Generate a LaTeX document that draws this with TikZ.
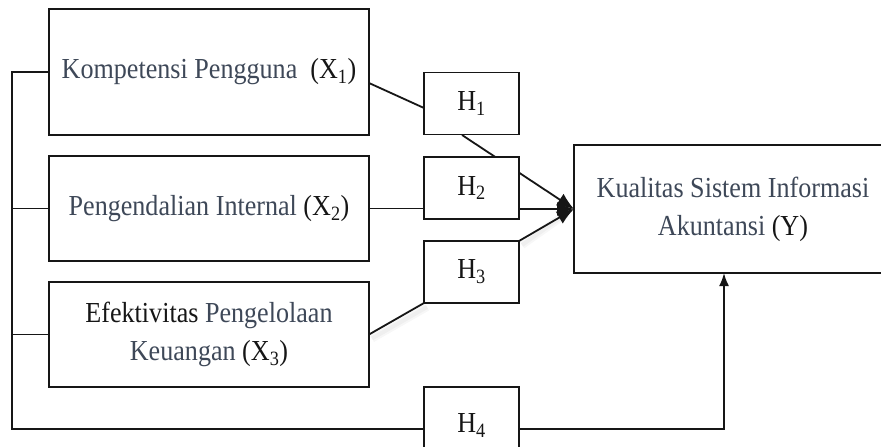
\documentclass[tikz,border=0pt]{standalone}
\usepackage{fontspec}
\setmainfont[FakeStretch=0.9]{Liberation Serif}
\usetikzlibrary{arrows.meta,calc}
\definecolor{slate}{HTML}{3E4858}
\definecolor{ink}{HTML}{161616}
\begin{document}
\begin{tikzpicture}[x=1pt,y=-1pt,
  box/.style={draw=ink, line width=1.8pt, fill=white, inner sep=0pt, outer sep=0pt,
              font=\fontsize{29}{38}\selectfont, text=slate, align=center},
  hbox/.style={box, minimum width=95pt, minimum height=62pt, text=ink},
  conn/.style={draw=ink, line width=1.8pt},
  tip/.style={-{Latex[length=17pt,width=14pt]}}
  ]
\useasboundingbox (0,0) rectangle (881,447);
\clip (0,0) rectangle (881,447);
\fill[white] (0,0) rectangle (881,447);

% nodes
\node[box, minimum width=320pt, minimum height=126pt] (X1) at (209,72)
  {Kompetensi Pengguna\ \ \textcolor{ink}{(X\textsubscript{1})}};
\node[box, minimum width=320pt, minimum height=105pt] (X2) at (209,208.5)
  {Pengendalian Internal \textcolor{ink}{(X\textsubscript{2})}};
\node[box, minimum width=320pt, minimum height=105pt] (X3) at (209,334.5)
  {\textcolor{ink}{Efektivitas} Pengelolaan\\Keuangan \textcolor{ink}{(X\textsubscript{3})}};
\node[box, minimum width=318pt, minimum height=128pt] (Y) at (733,209)
  {Kualitas Sistem Informasi\\Akuntansi \textcolor{ink}{(Y)}};
\coordinate (bus) at (12,72);
\coordinate (yin) at (724,273);

% connectors drawn below the H boxes
\draw[conn] ($(X1.east)+(0,11)$) -- (424,108) coordinate (h1in);
\draw[conn, tip] (462,135) coordinate (h1out) -- (Y.west);

\node[hbox] (H1) at (471.5,103.5) {H\textsubscript{1}};
\node[hbox] (H2) at (471.5,188) {H\textsubscript{2}};
\node[hbox] (H3) at (471.5,272) {H\textsubscript{3}};
\node[box, text=ink, minimum width=95pt, minimum height=84pt] (H4) at (471.5,429) {\raisebox{11pt}{H\textsubscript{4}}};

% soft shadows for H3 links
\foreach \w in {4,8}{
  \draw[draw=black, line width=\w pt, opacity=0.03] ($(X3.east)+(3,4)$) -- ($(H3.south west)+(3,4)$);
  \draw[draw=black, line width=\w pt, opacity=0.03] ($(H3.north east)+(3,4)$) -- ($(Y.west)+(-8,5)$);
}

\draw[conn] (X2.east) -- (X2.east -| H2.west);
\draw[conn, tip] (Y.west -| H2.east) -- (Y.west);
\draw[conn] (X3.east) -- (H3.south west);
\draw[conn, tip] (H3.north east) -- (Y.west);

% left bus
\draw[conn] (X1.west) -- (bus) |- (H4.west);
\draw[conn] (X2.west) -- (X2.west -| bus);
\draw[conn] (X3.west) -- (X3.west -| bus);
\draw[conn, -{Latex[length=13pt,width=10pt]}] (H4.east) -| (yin);
\end{tikzpicture}
\end{document}
